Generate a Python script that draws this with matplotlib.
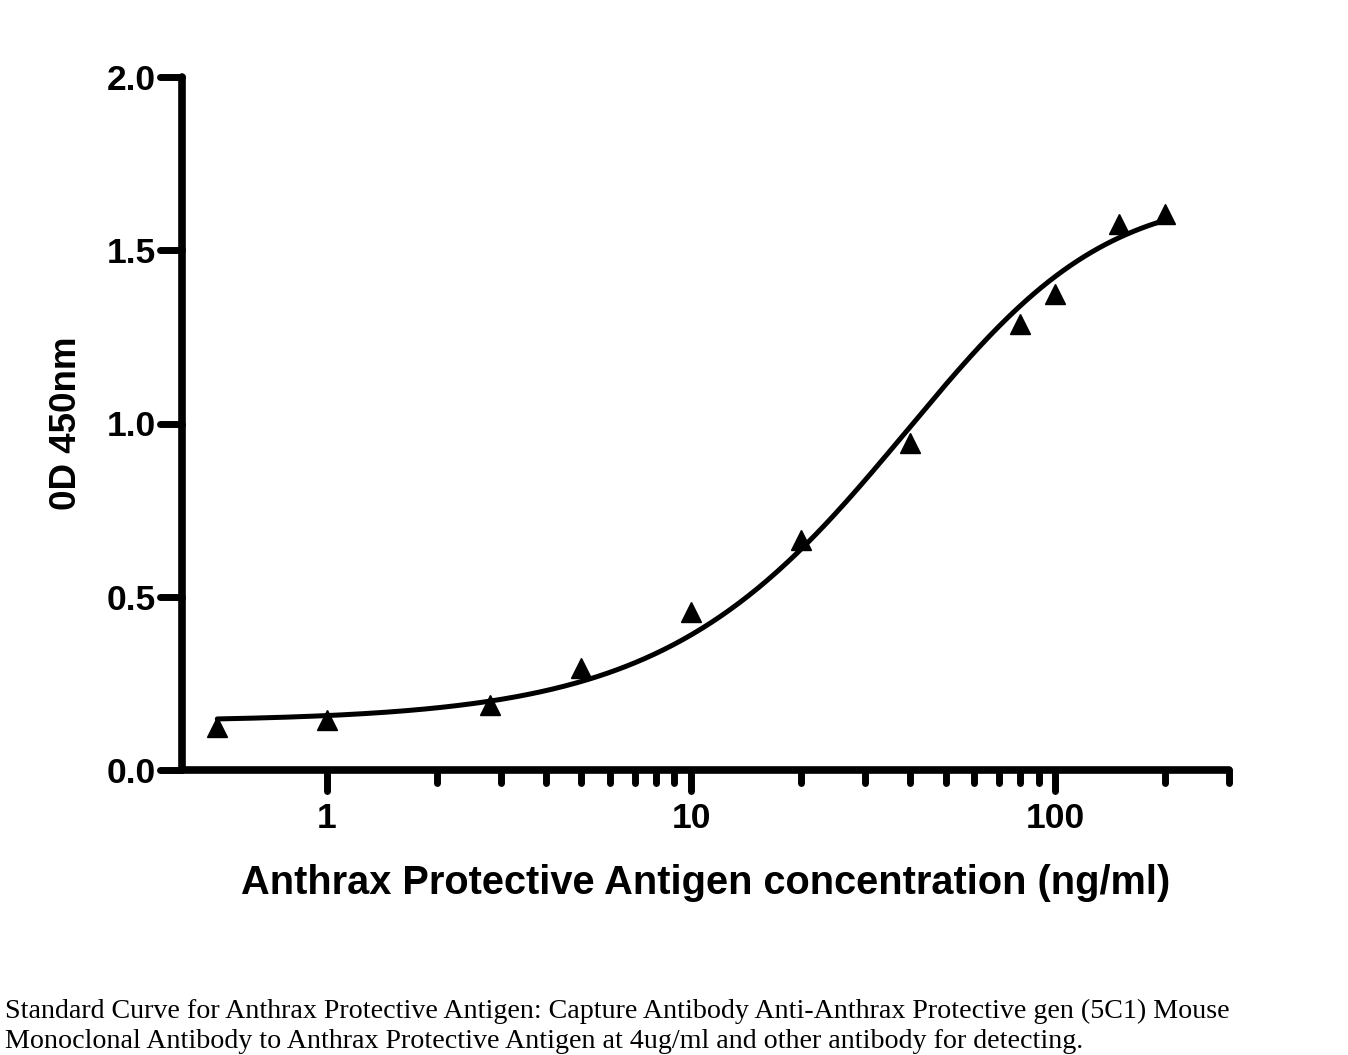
import numpy as np
import matplotlib
matplotlib.use("Agg")
import matplotlib.pyplot as plt
from matplotlib.ticker import FixedLocator, NullFormatter, FixedFormatter
from matplotlib.markers import MarkerStyle

# measured standards (ng/ml) and OD 450nm
conc = [0.5, 1, 2.8, 5, 10, 20, 40, 80, 100, 150, 200]
od = [0.123, 0.144, 0.189, 0.294, 0.455, 0.665, 0.945, 1.286, 1.375, 1.576, 1.605]

# 5-parameter logistic fit: bottom, top, midpoint, hill slope, asymmetry
fit_bottom = 0.14
fit_top = 1.66
fit_c = 68.0
fit_hill = 1.22
fit_asym = 1.95

xticks_major = [1, 10, 100]
xtick_labels = ["1", "10", "100"]
xticks_minor = [2, 3, 4, 5, 6, 7, 8, 9, 20, 30, 40, 50, 60, 70, 80, 90, 200, 300]
yticks = [0.0, 0.5, 1.0, 1.5, 2.0]
ytick_labels = ["0.0", "0.5", "1.0", "1.5", "2.0"]

xlabel = "Anthrax Protective Antigen concentration (ng/ml)"
ylabel = "0D 450nm"
caption = ["Standard Curve for Anthrax Protective Antigen: Capture Antibody Anti-Anthrax Protective gen (5C1) Mouse",
           "Monoclonal Antibody to Anthrax Protective Antigen at 4ug/ml and other antibody for detecting."]

W, H = 1348, 1055
fig = plt.figure(figsize=(W / 100, H / 100), dpi=100)
ax = fig.add_axes([182 / W, 1 - 770 / H, (1229 - 182) / W, (770 - 77) / H])

xs = np.geomspace(min(conc), max(conc), 400)
ys = fit_top - (fit_top - fit_bottom) / (1 + (xs / fit_c) ** fit_hill) ** fit_asym
ax.plot(xs, ys, color="black", lw=3.6, solid_capstyle="round")
ax.plot(conc, od, linestyle="none", marker="^", ms=14, color="black")

ax.set_xscale("log")
ax.set_xlim(0.4, 300)
ax.set_ylim(0, 2.0)

ax.xaxis.set_major_locator(FixedLocator(xticks_major))
ax.xaxis.set_major_formatter(FixedFormatter(xtick_labels))
ax.xaxis.set_minor_locator(FixedLocator(xticks_minor))
ax.xaxis.set_minor_formatter(NullFormatter())
ax.yaxis.set_major_locator(FixedLocator(yticks))
ax.yaxis.set_major_formatter(FixedFormatter(ytick_labels))

for side in ["top", "right"]:
    ax.spines[side].set_visible(False)
for side in ["left", "bottom"]:
    ax.spines[side].set_linewidth(5.5)
    ax.spines[side].set_capstyle("round")

tfont = {"family": "Liberation Sans", "weight": "bold", "size": 25.5}
ax.tick_params(axis="x", which="major", length=15, width=5, pad=8, direction="out")
ax.tick_params(axis="x", which="minor", length=9.5, width=5, direction="out")
ax.tick_params(axis="y", which="major", length=16, width=5, pad=3, direction="out")
for lab in ax.get_xticklabels() + ax.get_yticklabels():
    lab.set_fontproperties(matplotlib.font_manager.FontProperties(**tfont))

ax.set_xlabel(xlabel, family="Liberation Sans", weight="bold", size=28.6, labelpad=21)
ax.set_ylabel(ylabel, family="Liberation Sans", weight="bold", size=26.5, labelpad=16)

for i, line in enumerate(caption):
    fig.text(5 / W, 1 - (1018 + i * 30) / H, line, family="Liberation Serif", size=20.2,
             ha="left", va="baseline")

# rounded tick ends
for t in ax.xaxis.get_major_ticks() + ax.xaxis.get_minor_ticks() + ax.yaxis.get_major_ticks():
    t.tick1line.set_marker(MarkerStyle(t.tick1line.get_marker(), capstyle="round"))

fig.savefig("out.png", dpi=100)
